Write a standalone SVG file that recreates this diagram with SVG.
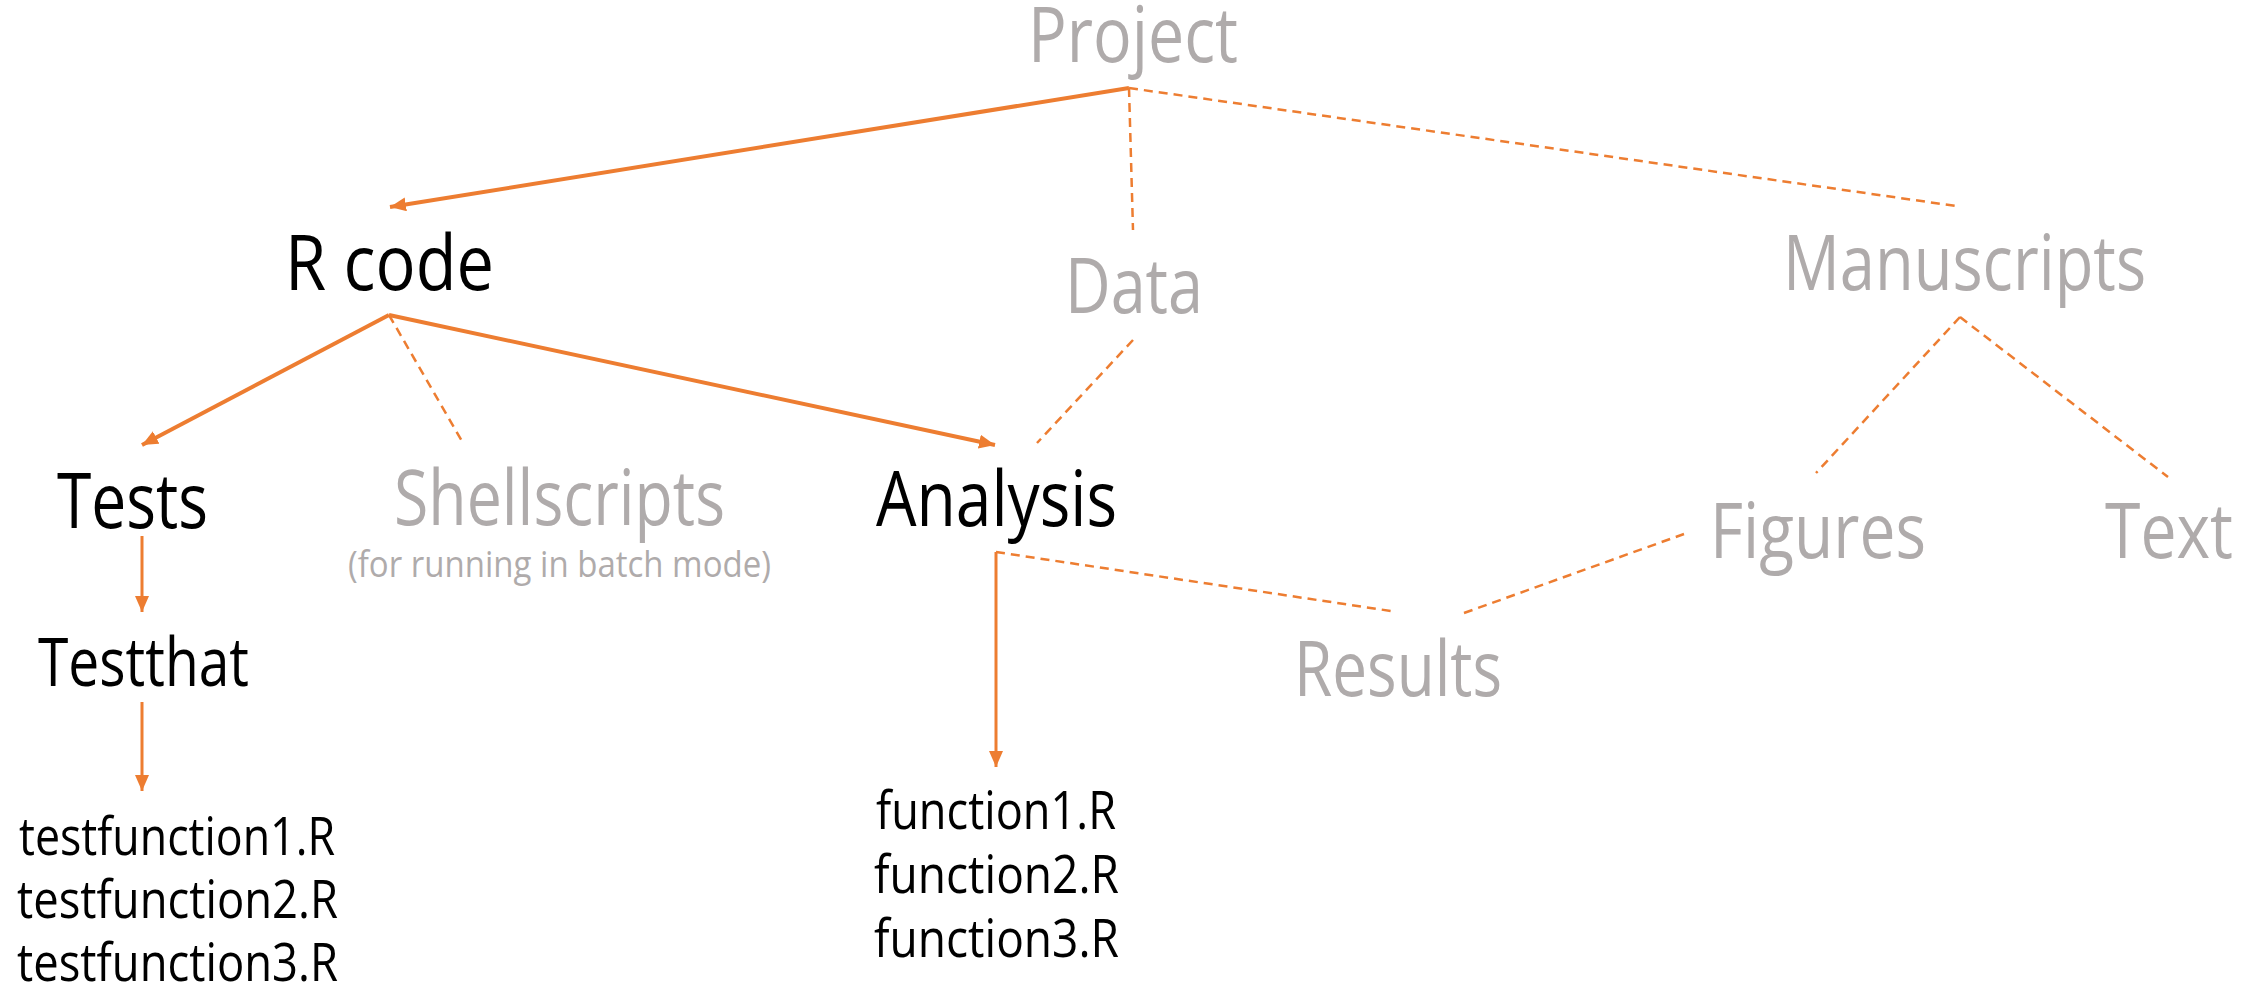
<svg xmlns="http://www.w3.org/2000/svg" width="2265" height="987" viewBox="0 0 2265 987">
  <style>
    text { font-family: "Open Sans", "Noto Sans", "Liberation Sans", sans-serif; }
    .big { font-size: 76px; }
    .mid { font-size: 67px; }
    .file { font-size: 53px; }
    .note { font-size: 37px; }
    .on { fill: #000000; }
    .off { fill: #AFABAB; }
    .solid { stroke: #ED7D31; stroke-width: 4; fill: none; }
    .thin { stroke: #ED7D31; stroke-width: 3; fill: none; }
    .dash { stroke: #ED7D31; stroke-width: 2.5; fill: none; stroke-dasharray: 9 6; }
  </style>
  <defs>
    <marker id="head" markerUnits="userSpaceOnUse" markerWidth="18" markerHeight="16" refX="16" refY="7" orient="auto">
      <path d="M0,0 L16,7 L0,14 Z" fill="#ED7D31"/>
    </marker>
  </defs>
  <rect width="2265" height="987" fill="#ffffff"/>

  <g id="connectors">
    <line class="solid" x1="1129" y1="88" x2="390" y2="207" marker-end="url(#head)"/>
    <line class="dash" x1="1129" y1="88" x2="1133" y2="230"/>
    <line class="dash" x1="1129" y1="88" x2="1956" y2="206"/>
    <line class="solid" x1="389" y1="315" x2="142" y2="445" marker-end="url(#head)"/>
    <line class="dash" x1="389" y1="315" x2="463" y2="443"/>
    <line class="solid" x1="389" y1="315" x2="995" y2="445" marker-end="url(#head)"/>
    <line class="dash" x1="1133" y1="340" x2="1037" y2="443"/>
    <line class="dash" x1="1960" y1="317" x2="1816" y2="473"/>
    <line class="dash" x1="1960" y1="317" x2="2168" y2="477"/>
    <line class="thin" x1="142" y1="536" x2="142" y2="612" marker-end="url(#head)"/>
    <line class="thin" x1="142" y1="702" x2="142" y2="791" marker-end="url(#head)"/>
    <line class="thin" x1="996" y1="552" x2="996" y2="767" marker-end="url(#head)"/>
    <line class="dash" x1="996" y1="552" x2="1391" y2="611"/>
    <line class="dash" x1="1464" y1="613" x2="1684" y2="534"/>
  </g>

  <g id="project"><text class="big off" x="1028" y="62" textLength="210" lengthAdjust="spacingAndGlyphs">Project</text></g>
  <g id="rcode"><text class="big on" x="285" y="290" textLength="209" lengthAdjust="spacingAndGlyphs">R code</text></g>
  <g id="data"><text class="big off" x="1065" y="313" textLength="138" lengthAdjust="spacingAndGlyphs">Data</text></g>
  <g id="manuscripts"><text class="big off" x="1783" y="290" textLength="363" lengthAdjust="spacingAndGlyphs">Manuscripts</text></g>
  <g id="tests"><text class="big on" x="57" y="528" textLength="151" lengthAdjust="spacingAndGlyphs">Tests</text></g>
  <g id="shellscripts">
    <text class="big off" x="394" y="525" textLength="331" lengthAdjust="spacingAndGlyphs">Shellscripts</text>
    <text class="note off" x="348" y="577" textLength="423" lengthAdjust="spacingAndGlyphs">(for running in batch mode)</text>
  </g>
  <g id="analysis"><text class="big on" x="876" y="526" textLength="241" lengthAdjust="spacingAndGlyphs">Analysis</text></g>
  <g id="figures"><text class="big off" x="1710" y="558" textLength="216" lengthAdjust="spacingAndGlyphs">Figures</text></g>
  <g id="text"><text class="big off" x="2105" y="558" textLength="128" lengthAdjust="spacingAndGlyphs">Text</text></g>
  <g id="results"><text class="big off" x="1294" y="696" textLength="208" lengthAdjust="spacingAndGlyphs">Results</text></g>
  <g id="testthat"><text class="mid on" x="38" y="686" textLength="211" lengthAdjust="spacingAndGlyphs">Testthat</text></g>
  <g id="testfiles">
    <text class="file on" x="19" y="855" textLength="316" lengthAdjust="spacingAndGlyphs">testfunction1.R</text>
    <text class="file on" x="17" y="918" textLength="321" lengthAdjust="spacingAndGlyphs">testfunction2.R</text>
    <text class="file on" x="17" y="981" textLength="321" lengthAdjust="spacingAndGlyphs">testfunction3.R</text>
  </g>
  <g id="functionfiles">
    <text class="file on" x="876" y="829" textLength="240" lengthAdjust="spacingAndGlyphs">function1.R</text>
    <text class="file on" x="874" y="893" textLength="245" lengthAdjust="spacingAndGlyphs">function2.R</text>
    <text class="file on" x="874" y="957" textLength="245" lengthAdjust="spacingAndGlyphs">function3.R</text>
  </g>
</svg>
